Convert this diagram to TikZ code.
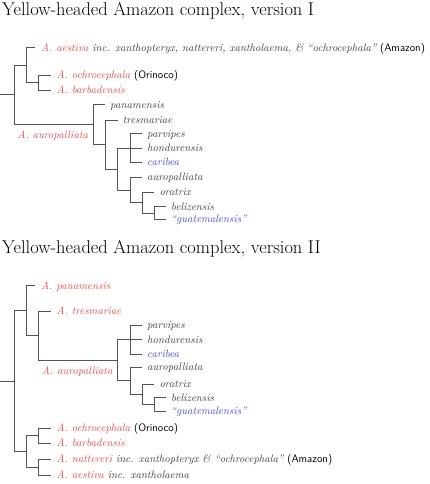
\documentclass[tikz,border=0pt]{standalone}
\definecolor{tred}{RGB}{232,74,74}
\definecolor{tblue}{RGB}{72,72,228}
\definecolor{tgray}{RGB}{62,62,62}
\definecolor{lgray}{RGB}{85,85,85}
\newcommand{\rd}[1]{\textcolor{tred}{#1}}
\newcommand{\bl}[1]{\textcolor{tblue}{#1}}
\newcommand{\loc}[1]{\textcolor{black}{\upshape\sffamily #1}}
\begin{document}
\begin{tikzpicture}[x=1pt,y=-1pt,
  br/.style={draw=lgray, line width=0.7pt},
  lf/.style={anchor=base west, inner sep=0pt, text=tgray, font=\fontsize{10.75}{13}\selectfont\itshape},
  clade/.style={anchor=base east, inner sep=0pt, text=tred, font=\fontsize{10.75}{13}\selectfont\itshape},
  ttl/.style={anchor=base west, inner sep=0pt, font=\fontsize{18.45}{22}\selectfont}]
\useasboundingbox (0,0) rectangle (430,484);

% ---------- titles
\node[ttl] (title1) at (2,16) {Yellow-headed Amazon complex, version I};
\node[ttl] (title2) at (2,253.3) {Yellow-headed Amazon complex, version II};

% ---------- version I : coordinates
\coordinate (r1s) at (0,94.7);
\coordinate (r1) at (14,94.7);
\coordinate (a1) at (26.5,65.1);
\coordinate (e1aes) at (35,47.7);
\coordinate (ob1) at (38.7,82.5);
\coordinate (e1och) at (50.5,75);
\coordinate (e1bar) at (50.5,90);
\coordinate (au1) at (93.3,124.6);
\coordinate (e1pan) at (105,104.7);
\coordinate (t1) at (105.5,144.5);
\coordinate (e1tre) at (117.7,120);
\coordinate (p1) at (117.7,168.9);
\coordinate (h1) at (130,148);
\coordinate (e1par) at (142,133.6);
\coordinate (e1hon) at (142,148);
\coordinate (e1car) at (142,162.4);
\coordinate (o1) at (130,190);
\coordinate (e1aur) at (142,177.3);
\coordinate (or1) at (142.3,202.7);
\coordinate (e1ora) at (154.3,192.3);
\coordinate (bg1) at (154.3,213);
\coordinate (e1bel) at (166,206.7);
\coordinate (e1gua) at (166,219.3);

% ---------- version I : branches
\draw[br] (r1s) -- (r1);
\draw[br] (r1) |- (a1);
\draw[br] (r1) |- (au1);
\draw[br] (a1) |- (e1aes);
\draw[br] (a1) |- (ob1);
\draw[br] (ob1) |- (e1och);
\draw[br] (ob1) |- (e1bar);
\draw[br] (au1) |- (e1pan);
\draw[br] (au1) |- (t1);
\draw[br] (t1) |- (e1tre);
\draw[br] (t1) |- (p1);
\draw[br] (p1) |- (h1);
\draw[br] (p1) |- (o1);
\draw[br] (h1) |- (e1par);
\draw[br] (h1) |- (e1hon);
\draw[br] (h1) |- (e1car);
\draw[br] (o1) |- (e1aur);
\draw[br] (o1) |- (or1);
\draw[br] (or1) |- (e1ora);
\draw[br] (or1) |- (bg1);
\draw[br] (bg1) |- (e1bel);
\draw[br] (bg1) |- (e1gua);

% ---------- version I : labels
\node[lf] (l1aes) at ([shift={(6,3.5)}]e1aes) {\rd{A. aestiva} inc. xanthopteryx, nattereri, xantholaema, \& ``ochrocephala'' \loc{(Amazon)}};
\node[lf] (l1och) at ([shift={(6,3.5)}]e1och) {\rd{A. ochrocephala} \loc{(Orinoco)}};
\node[lf] (l1bar) at ([shift={(6,3.5)}]e1bar) {\rd{A. barbadensis}};
\node[clade] (l1au) at ([shift={(-5,13.5)}]au1) {A. auropalliata};
\node[lf] (l1pan) at ([shift={(5,3.5)}]e1pan) {panamensis};
\node[lf] (l1tre) at ([shift={(5,3.5)}]e1tre) {tresmariae};
\node[lf] (l1par) at ([shift={(5,3.5)}]e1par) {parvipes};
\node[lf] (l1hon) at ([shift={(5,3.5)}]e1hon) {hondurensis};
\node[lf] (l1car) at ([shift={(5,3.5)}]e1car) {\bl{caribea}};
\node[lf] (l1aur) at ([shift={(5,3.5)}]e1aur) {auropalliata};
\node[lf] (l1ora) at ([shift={(5,3.5)}]e1ora) {oratrix};
\node[lf] (l1bel) at ([shift={(5,3.5)}]e1bel) {belizensis};
\node[lf] (l1gua) at ([shift={(5,3.5)}]e1gua) {\bl{``guatemalensis''}};

% ---------- version II : coordinates
\coordinate (r2s) at (0,381);
\coordinate (r2) at (14,381);
\coordinate (pt2) at (26.5,310.7);
\coordinate (e2pan) at (35,285.7);
\coordinate (ta2) at (38.7,335.6);
\coordinate (e2tre) at (50.5,311);
\coordinate (au2) at (117.7,360.2);
\coordinate (h2) at (130,339.7);
\coordinate (e2par) at (142,325.2);
\coordinate (e2hon) at (142,339.7);
\coordinate (e2car) at (142,354.2);
\coordinate (o2) at (130,380.7);
\coordinate (e2aur) at (142,367.3);
\coordinate (or2) at (142.3,394.2);
\coordinate (e2ora) at (154.3,384);
\coordinate (bg2) at (154.3,404.3);
\coordinate (e2bel) at (166,397.7);
\coordinate (e2gua) at (166,411);
\coordinate (lo2) at (26.5,451.4);
\coordinate (ob2) at (38.7,435.8);
\coordinate (e2och) at (50.5,428.3);
\coordinate (e2bar) at (50.5,443.3);
\coordinate (na2) at (38.7,467);
\coordinate (e2nat) at (50.5,459);
\coordinate (e2aes) at (50.5,475);

% ---------- version II : branches
\draw[br] (r2s) -- (r2);
\draw[br] (r2) |- (pt2);
\draw[br] (r2) |- (lo2);
\draw[br] (pt2) |- (e2pan);
\draw[br] (pt2) |- (ta2);
\draw[br] (ta2) |- (e2tre);
\draw[br] (ta2) |- (au2);
\draw[br] (au2) |- (h2);
\draw[br] (au2) |- (o2);
\draw[br] (h2) |- (e2par);
\draw[br] (h2) |- (e2hon);
\draw[br] (h2) |- (e2car);
\draw[br] (o2) |- (e2aur);
\draw[br] (o2) |- (or2);
\draw[br] (or2) |- (e2ora);
\draw[br] (or2) |- (bg2);
\draw[br] (bg2) |- (e2bel);
\draw[br] (bg2) |- (e2gua);
\draw[br] (lo2) |- (ob2);
\draw[br] (lo2) |- (na2);
\draw[br] (ob2) |- (e2och);
\draw[br] (ob2) |- (e2bar);
\draw[br] (na2) |- (e2nat);
\draw[br] (na2) |- (e2aes);

% ---------- version II : labels
\node[lf] (l2pan) at ([shift={(6,3.5)}]e2pan) {\rd{A. panamensis}};
\node[lf] (l2tre) at ([shift={(6,3.5)}]e2tre) {\rd{A. tresmariae}};
\node[clade] (l2au) at ([shift={(-5,14)}]au2) {A. auropalliata};
\node[lf] (l2par) at ([shift={(5,3.5)}]e2par) {parvipes};
\node[lf] (l2hon) at ([shift={(5,3.5)}]e2hon) {hondurensis};
\node[lf] (l2car) at ([shift={(5,3.5)}]e2car) {\bl{caribea}};
\node[lf] (l2aur) at ([shift={(5,3.5)}]e2aur) {auropalliata};
\node[lf] (l2ora) at ([shift={(5,3.5)}]e2ora) {oratrix};
\node[lf] (l2bel) at ([shift={(5,3.5)}]e2bel) {belizensis};
\node[lf] (l2gua) at ([shift={(5,3.5)}]e2gua) {\bl{``guatemalensis''}};
\node[lf] (l2och) at ([shift={(6,3.5)}]e2och) {\rd{A. ochrocephala} \loc{(Orinoco)}};
\node[lf] (l2bar) at ([shift={(6,3.5)}]e2bar) {\rd{A. barbadensis}};
\node[lf] (l2nat) at ([shift={(6,3.5)}]e2nat) {\rd{A. nattereri} inc. xanthopteryx \& ``ochrocephala'' \loc{(Amazon)}};
\node[lf] (l2aes) at ([shift={(6,3.5)}]e2aes) {\rd{A. aestiva} inc. xantholaema};
\end{tikzpicture}
\end{document}
